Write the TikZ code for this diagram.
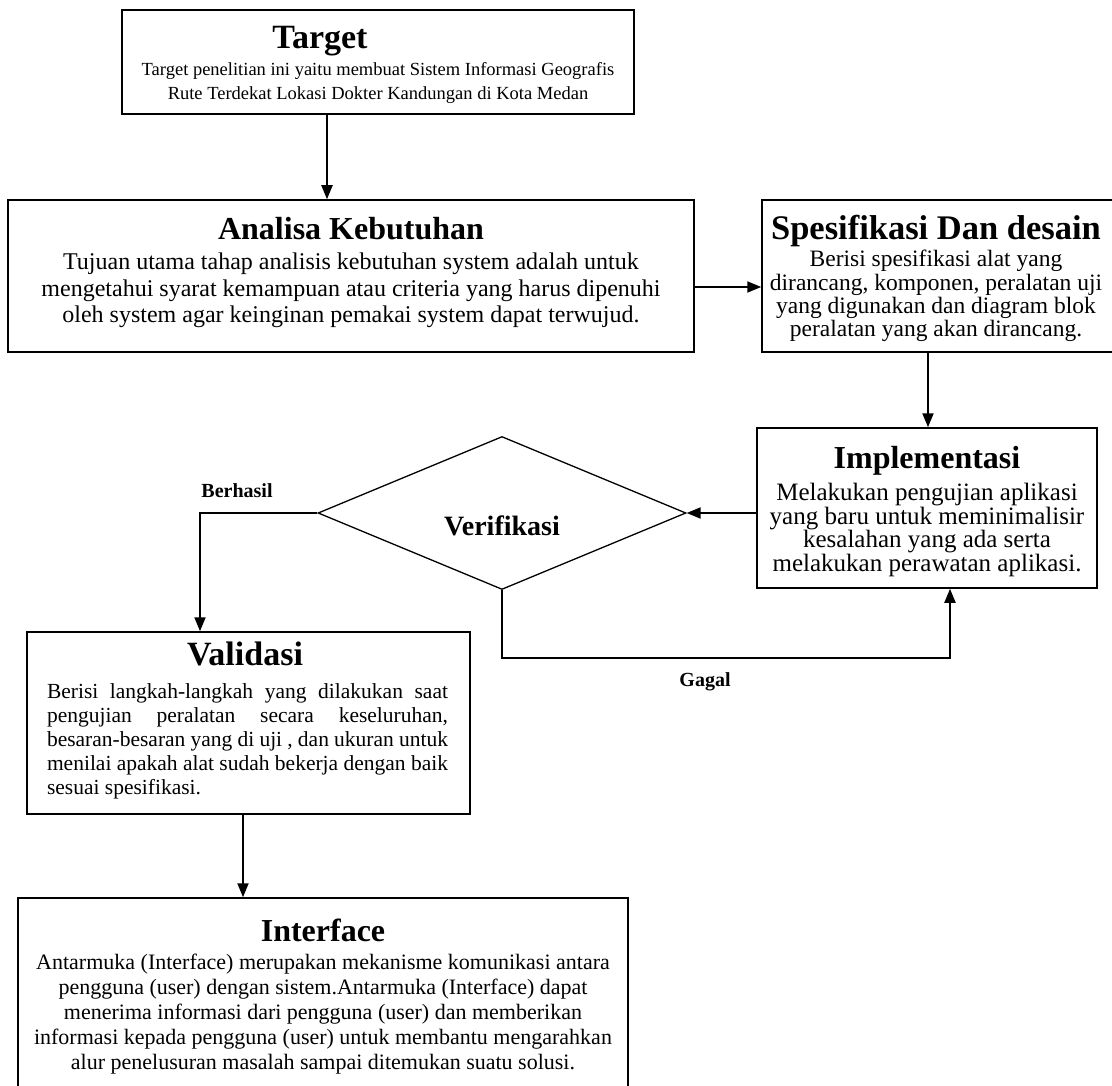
\documentclass[tikz,border=0pt]{standalone}
\usepackage{fontspec}
\setmainfont{Liberation Serif}
\usetikzlibrary{positioning, arrows.meta, shapes.geometric}
\tikzset{
  every node/.style={inner sep=0pt},
  arr/.style={-{Triangle[length=14pt,width=11pt]}, line width=2pt},
  box/.style={draw, line width=1.5pt},
  dec/.style={draw, diamond, line width=1.3pt, minimum width=368pt, minimum height=153pt},
  ttl/.style={anchor=base, font=\bfseries\fontsize{32}{36}\selectfont},
  txt/.style={anchor=base, align=center, font=\fontsize{22}{25}\selectfont},
  lbl/.style={anchor=base, font=\bfseries\fontsize{20}{24}\selectfont},
}

\begin{document}
\begin{tikzpicture}[x=1pt, y=-1pt]
  \useasboundingbox (0,0) rectangle (1112,1086);
  % --- the boxes ---
  \node[box, minimum width=512pt, minimum height=104pt] (target) at (378,62) {};
  \node[box, minimum width=686pt, minimum height=152pt] (analisa) at (351,276) {};
  \node[box, minimum width=352pt, minimum height=152pt] (spes) at (938,276) {};
  \node[box, minimum width=340pt, minimum height=160pt] (impl) at (927,508) {};
  \node[dec] (verif) at (502,513) {};
  \node[box, minimum width=443pt, minimum height=182pt] (validasi) at (248.5,723) {};
  \node[box, minimum width=610pt, minimum height=200pt] (intf) at (323,998) {};
  % --- titles and texts (multi-line texts sit on their last baseline) ---
  \node[ttl, font=\bfseries\fontsize{34}{38}\selectfont] (targetTtl) at (320,49) {Target};
  \node[txt, font=\fontsize{18.5}{24}\selectfont] (targetTxt) at (378,100)
    {Target penelitian ini yaitu membuat Sistem Informasi Geografis\\
     Rute Terdekat Lokasi Dokter Kandungan di Kota Medan};
  \node[ttl] (analisaTtl) at (351,240) {Analisa Kebutuhan};
  \node[txt, font=\fontsize{24}{26.5}\selectfont] (analisaTxt) at (351,323)
    {Tujuan utama tahap analisis kebutuhan system adalah untuk\\
     mengetahui syarat kemampuan atau criteria yang harus dipenuhi\\
     oleh system agar keinginan pemakai system dapat terwujud.};
  \node[ttl, font=\bfseries\fontsize{34.5}{38}\selectfont] (spesTtl) at (936,240) {Spesifikasi Dan desain};
  \node[txt, font=\fontsize{23.5}{23.5}\selectfont] (spesTxt) at (936,337)
    {Berisi spesifikasi alat yang\\
     dirancang, komponen, peralatan uji\\
     yang digunakan dan diagram blok\\
     peralatan yang akan dirancang.};
  \node[ttl] (implTtl) at (927,468) {Implementasi};
  \node[txt, font=\fontsize{25}{23.5}\selectfont] (implTxt) at (927,571)
    {Melakukan pengujian aplikasi\\
     yang baru untuk meminimalisir\\
     kesalahan yang ada serta\\
     melakukan perawatan aplikasi.};
  \node[lbl, font=\bfseries\fontsize{28}{32}\selectfont] (verifTxt) at (502,535) {Verifikasi};
  \node[ttl, font=\bfseries\fontsize{34}{38}\selectfont] (validasiTtl) at (245,665) {Validasi};
  % justified block: this one sits on its first baseline
  \node[txt, align=justify, text width=401pt, font=\fontsize{21.5}{24}\selectfont] (validasiTxt) at (247.5,698)
    {Berisi langkah-langkah yang dilakukan saat\linebreak
     pengujian peralatan secara keseluruhan,\linebreak
     besaran-besaran yang di uji , dan ukuran untuk\linebreak
     menilai apakah alat sudah bekerja dengan baik\linebreak
     sesuai spesifikasi.};
  \node[ttl] (intfTtl) at (323,941) {Interface};
  \node[txt] (intfTxt) at (323,1069)
    {Antarmuka (Interface) merupakan mekanisme komunikasi antara\\
     pengguna (user) dengan sistem.Antarmuka (Interface) dapat\\
     menerima informasi dari pengguna (user) dan memberikan\\
     informasi kepada pengguna (user) untuk membantu mengarahkan\\
     alur penelusuran masalah sampai ditemukan suatu solusi.};
  % --- connectors ---
  \draw[arr] ([xshift=-51pt]target.south) -- ([xshift=-24pt]analisa.north);
  \draw[arr] ([yshift=-11pt]analisa.east) -- ([yshift=-11pt]spes.west);
  \draw[arr] ([xshift=-10pt]spes.south) -- ([xshift=1pt]impl.north);
  \draw[arr] ([yshift=-5pt]impl.west) -- (verif.east);
  \draw[arr] (verif.west) -| ([xshift=-48.5pt]validasi.north);
  \draw[arr] (verif.south) -- ++(0,68) -| ([xshift=23pt]impl.south);
  \draw[arr] ([xshift=-5.5pt]validasi.south) -- ([xshift=-80pt]intf.north);
  \node[lbl] (berhasilLbl) at (237,497) {Berhasil};
  \node[lbl] (gagalLbl) at (705,686) {Gagal};
\end{tikzpicture}
\end{document}
